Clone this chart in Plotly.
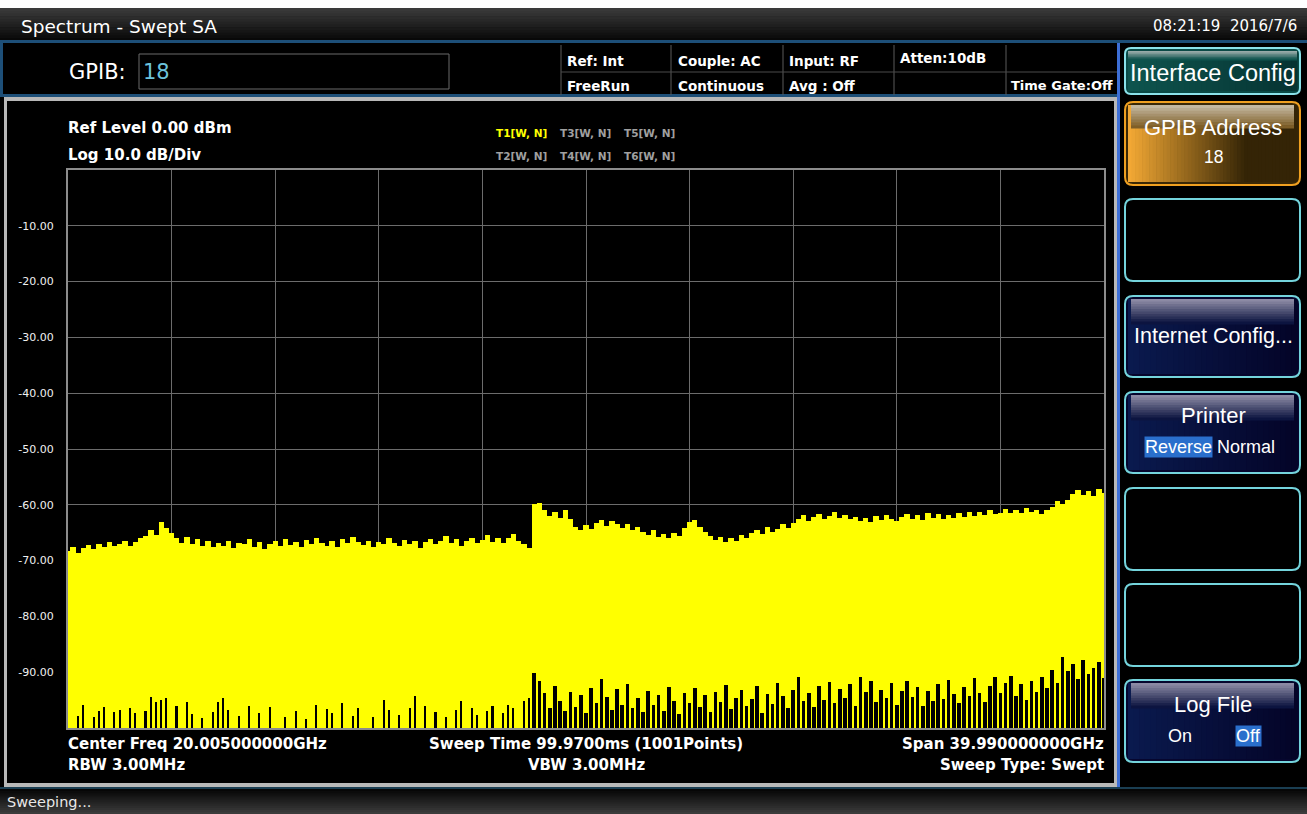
import numpy as np
import plotly.graph_objects as go

# ---------------- data ----------------
START_GHZ = 0.01
STOP_GHZ = 40.0
REF_LEVEL_DBM = 0.0
DB_PER_DIV = 10.0

# upper (peak) envelope of trace T1, dBm, evenly spaced sweep points
upper_dbm = [
    -68.3, -67.5, -68.6, -67.8, -67.2, -67.9, -67.0, -67.6, -66.6, -67.4,
    -67.0, -66.4, -67.3, -66.7, -66.0,
    -65.6, -64.6, -65.4, -63.0, -64.2, -65.0, -65.9,
    -66.8, -65.8, -67.1, -66.2, -67.4, -66.5, -67.6, -66.9,
    -67.3, -66.4, -67.8, -66.8, -67.1, -66.2, -67.5, -66.7, -67.9, -67.0,
    -66.5, -67.4, -66.1, -67.2, -66.6, -67.6, -66.3, -67.0, -65.9, -66.8,
    -67.3, -66.5, -67.6, -66.2, -66.9, -65.8, -66.7, -67.2, -66.4, -67.5,
    -66.6, -67.1, -66.0, -66.8, -67.4, -66.3, -67.0, -66.5, -67.7, -66.6,
    -66.2, -67.0, -66.4, -65.6, -66.9, -66.1, -67.3, -66.5, -66.0, -66.8,
    -66.3, -65.5, -66.6, -65.9, -66.8, -66.0, -65.3, -66.4, -67.0, -67.8,
    -59.8, -59.6,
    -61.0, -62.0, -61.2,
    -62.4, -61.0, -62.6,
    -64.0, -64.6, -63.6, -64.3,
    -63.2, -62.8, -63.8, -62.9, -63.5, -64.2, -63.4, -64.6, -64.0,
    -64.8, -65.4, -64.6, -65.8, -65.2, -66.0, -65.0, -65.6, -64.2,
    -63.0, -62.8, -63.9, -64.8,
    -65.6, -66.3, -65.8, -66.6, -66.0, -66.4, -65.5, -65.9,
    -65.0, -64.5, -65.3, -64.0, -64.8, -64.3, -63.5, -64.2, -63.2,
    -62.6, -61.8, -62.9, -62.2, -61.6, -62.5, -62.0, -61.3, -62.4, -61.9, -62.6,
    -62.1, -62.9, -62.3, -63.1, -62.0, -62.7, -61.8, -62.5, -62.9,
    -62.2, -61.6, -62.5, -61.9, -62.8, -61.4, -62.3, -61.7, -62.6, -61.8,
    -62.4, -61.5, -62.1, -61.3, -62.0,
    -61.2, -61.8, -61.0, -61.6, -61.4, -60.8, -61.5,
    -61.0, -61.4, -60.6, -61.2, -60.9, -61.6, -61.0, -60.4,
    -59.4, -59.8, -59.2,
    -58.0, -57.4, -58.2, -57.6, -58.4, -57.2, -57.9,
]

# lower (pit) envelope of trace T1, dBm (-100 = bottom of screen)
lower_dbm = [
    -100, -100, -97.8, -95.9, -100, -98.0, -97.0, -96.2, -100, -97.2,
    -96.8, -100, -96.5, -97.4, -100, -96.9, -94.4, -95.4, -95.0, -94.7,
    -100, -96.1, -100, -95.3, -97.5, -100, -98.2, -100, -97.1, -95.4,
    -94.7, -96.8, -100, -97.9, -100, -96.0, -100, -97.3, -100, -96.2,
    -100, -100, -98.1, -100, -97.0, -100, -98.3, -100, -95.8, -100,
    -96.6, -97.4, -100, -95.6, -100, -97.8, -96.4, -100, -100, -98.0,
    -100, -95.0, -96.8, -100, -97.6, -100, -96.4, -94.3, -100, -96.1,
    -100, -97.2, -100, -98.0, -100, -96.7, -95.1, -100, -96.4, -97.6,
    -100, -96.9, -96.0, -100, -97.3, -95.8, -96.5, -100, -95.2, -94.6,
    -90.2, -91.5, -93.8, -96.5, -92.4, -95.1, -97.0, -93.6, -96.2, -94.0,
    -97.4, -92.8, -95.6, -91.2, -94.4, -96.8, -93.0, -95.9, -92.1, -96.4,
    -94.6, -97.2, -93.4, -95.8, -94.0, -96.9, -92.6, -95.2, -97.5, -93.8,
    -95.6, -92.9, -96.3, -94.1, -97.1, -93.5, -95.4, -92.3, -96.6, -94.7,
    -93.1, -96.0, -94.8, -92.5, -97.3, -93.9, -95.7, -91.9, -94.3, -96.5,
    -93.2, -90.8, -95.1, -93.7, -96.2, -92.4, -94.9, -91.8, -95.5, -93.0,
    -94.6, -92.2, -96.1, -90.9, -93.6, -91.5, -95.3, -93.1, -94.7, -92.0,
    -95.8, -93.4, -91.6, -94.5, -92.7, -96.0, -93.3, -95.1, -92.2, -94.8,
    -91.4, -93.9, -95.6, -92.6, -94.2, -91.1, -93.7, -95.4, -92.5, -90.9,
    -93.8, -91.9, -90.7, -94.3, -92.1, -95.0, -91.6, -93.5, -90.9, -92.8,
    -89.6, -91.9, -87.2, -89.8, -88.6, -91.3, -87.9, -90.4, -89.2, -88.1,
    -91.0,
]

BAND_SWITCH_GHZ = 17.9

y_tick_values = [-10, -20, -30, -40, -50, -60, -70, -80, -90]
y_tick_labels = ["-10.00", "-20.00", "-30.00", "-40.00", "-50.00",
                 "-60.00", "-70.00", "-80.00", "-90.00"]

# ---------------- figure ----------------
W, H = 1307, 814
PL, PR, PT, PB = 68, 1104, 170, 728

n = len(upper_dbm)
freq = np.linspace(START_GHZ, STOP_GHZ, n)
step_ghz = (STOP_GHZ - START_GHZ) / (n - 1)
floor_dbm = REF_LEVEL_DBM - 10 * DB_PER_DIV
upper = np.array(upper_dbm)
lower = np.array(lower_dbm)


def fx(px):
    return (px - PL) / (PR - PL)


def fy(py):
    return (PB - py) / (PB - PT)


fig = go.Figure()
# yellow trace body (peak envelope down to the bottom of the screen)
fig.add_trace(go.Bar(x=freq, y=upper - floor_dbm, base=floor_dbm,
                     width=step_ghz * 1.04,
                     marker=dict(color="#ffff00", line=dict(width=0)),
                     showlegend=False))

px_ghz = (STOP_GHZ - START_GHZ) / (PR - PL)
mask_l = (lower > floor_dbm) & (freq < BAND_SWITCH_GHZ)
mask_r = (lower > floor_dbm) & (freq >= BAND_SWITCH_GHZ)
fig.add_trace(go.Bar(x=freq[mask_l], y=lower[mask_l] - floor_dbm, base=floor_dbm,
                     width=1.6 * px_ghz, marker=dict(color="#000000", line=dict(width=0)),
                     showlegend=False))
fig.add_trace(go.Bar(x=freq[mask_r], y=lower[mask_r] - floor_dbm, base=floor_dbm,
                     width=3.6 * px_ghz, marker=dict(color="#000000", line=dict(width=0)),
                     showlegend=False))

shapes = []
annotations = []


def rect(x0, y0, x1, y1, fill=None, line=None, lw=0):
    shapes.append(dict(type="rect", xref="paper", yref="paper", layer="below",
                       x0=fx(x0), x1=fx(x1), y0=fy(y1), y1=fy(y0),
                       fillcolor=fill or "rgba(0,0,0,0)",
                       line=dict(color=line or "rgba(0,0,0,0)", width=lw)))


def rround(x0, y0, x1, y1, r, fill=None, line=None, lw=0):
    p = (f"M {fx(x0 + r)},{fy(y0)} L {fx(x1 - r)},{fy(y0)} "
         f"Q {fx(x1)},{fy(y0)} {fx(x1)},{fy(y0 + r)} L {fx(x1)},{fy(y1 - r)} "
         f"Q {fx(x1)},{fy(y1)} {fx(x1 - r)},{fy(y1)} L {fx(x0 + r)},{fy(y1)} "
         f"Q {fx(x0)},{fy(y1)} {fx(x0)},{fy(y1 - r)} L {fx(x0)},{fy(y0 + r)} "
         f"Q {fx(x0)},{fy(y0)} {fx(x0 + r)},{fy(y0)} Z")
    shapes.append(dict(type="path", path=p, xref="paper", yref="paper", layer="below",
                       fillcolor=fill or "rgba(0,0,0,0)",
                       line=dict(color=line or "rgba(0,0,0,0)", width=lw)))


def mix(c0, c1, t):
    t = max(0.0, min(1.0, t))
    return "rgb(%d,%d,%d)" % tuple(round(a + (b - a) * t) for a, b in zip(c0, c1))


def vgrad(x0, y0, x1, y1, c0, c1, steps):
    h = (y1 - y0) / steps
    for k in range(steps):
        rect(x0, y0 + k * h, x1, y0 + (k + 1) * h + 0.6, fill=mix(c0, c1, k / max(1, steps - 1)))


def hgrad(x0, y0, x1, y1, c0, c1, steps, span=1.0):
    w = (x1 - x0) / steps
    for k in range(steps):
        rect(x0 + k * w, y0, x0 + (k + 1) * w + 0.6, y1,
             fill=mix(c0, c1, (k / max(1, steps - 1)) / span))


MONO = "DejaVu Sans"
ARIAL = "Liberation Sans, Arial, sans-serif"


def txt(x, y, s, size, color="#ffffff", anchor="left", family=MONO, bg=None):
    a = dict(x=fx(x), y=fy(y), xref="paper", yref="paper", text=s, showarrow=False,
             xanchor=anchor, yanchor="middle",
             font=dict(size=size, color=color, family=family), borderpad=0)
    if bg:
        a["bgcolor"] = bg
    annotations.append(a)


# white top strip and title bar
rect(0, 0, W, 8, fill="#ffffff")
vgrad(0, 8, W, 41, (58, 58, 58), (8, 8, 8), 12)
rect(0, 40, W, 43, fill="#1d4f78")
txt(20, 26, "Spectrum - Swept SA", 18.5, family=MONO)
txt(1298, 26, "08:21:19&nbsp;&nbsp;2016/7/6", 15, anchor="right", family=MONO)

# info bar
rect(0, 43, 1117, 95, fill="#000000")
rect(0, 94, 1117, 97, fill="#1d4f78")
rect(0, 43, 3, 97, fill="#1d4f78")
txt(68, 72, "GPIB:", 21, family=MONO)
rect(139, 54, 449, 89, line="#6a6a6a", lw=1)
txt(142, 72, "18", 21, color="#6cc3dc", family=MONO)
for xv in [561, 671, 783, 894, 1006]:
    rect(xv - 0.5, 45, xv + 0.5, 95, fill="#5a5a5a")
rect(561, 71.5, 1117, 72.5, fill="#4a4a4a")
status_top = [(566, "Ref: Int"), (677, "Couple: AC"), (788, "Input: RF")]
status_bot = [(566, "FreeRun"), (677, "Continuous"), (788, "Avg : Off")]
for xv, s in status_top:
    txt(xv, 61, "<b>%s</b>" % s, 13.5)
for xv, s in status_bot:
    txt(xv, 86, "<b>%s</b>" % s, 13.5)
txt(899, 58, "<b>Atten:10dB</b>", 13.5)
txt(1010, 86, "<b>Time Gate:Off</b>", 13)

# main panel
rect(4, 97, 1117, 101, fill="#b8b8b8")
rect(4, 97, 7, 787, fill="#b8b8b8")
rect(1114, 97, 1117, 787, fill="#b8b8b8")
rect(4, 783, 1117, 787, fill="#b8b8b8")

txt(67, 128, "<b>Ref Level 0.00 dBm</b>", 15)
txt(67, 155, "<b>Log 10.0 dB/Div</b>", 15)
txt(495, 133, "<b>T1[W, N]</b>", 10.5, color="#ffff00")
txt(559, 133, "<b>T3[W, N]</b>", 10.5, color="#a0a0a0")
txt(623, 133, "<b>T5[W, N]</b>", 10.5, color="#a0a0a0")
txt(495, 156, "<b>T2[W, N]</b>", 10.5, color="#a0a0a0")
txt(559, 156, "<b>T4[W, N]</b>", 10.5, color="#a0a0a0")
txt(623, 156, "<b>T6[W, N]</b>", 10.5, color="#a0a0a0")

txt(67, 744, "<b>Center Freq 20.005000000GHz</b>", 15)
txt(67, 765, "<b>RBW 3.00MHz</b>", 15)
txt(586, 744, "<b>Sweep Time 99.9700ms (1001Points)</b>", 15, anchor="center")
txt(586, 765, "<b>VBW 3.00MHz</b>", 15, anchor="center")
txt(1105, 744, "<b>Span 39.990000000GHz</b>", 15, anchor="right")
txt(1105, 765, "<b>Sweep Type: Swept</b>", 15, anchor="right")

# status bar
rect(0, 787, W, 789, fill="#1a3e52")
vgrad(0, 789, W, 814, (6, 6, 6), (60, 60, 60), 12)
txt(6, 802, "Sweeping...", 14.5, color="#e8e8e8")

# softkey panel
rect(1117, 43, 1120, 787, fill="#3d6fd6")
CYAN = "#74d4dc"
KX = 1213

# Interface Config (teal)
rround(1125, 48, 1300, 94, 6, fill="#0a4a46")
hgrad(1128, 52, 1297, 91, (14, 84, 78), (6, 52, 50), 30)
vgrad(1128, 51, 1297, 60, (150, 170, 168), (14, 84, 78), 6)
rround(1125, 48, 1300, 94, 6, line="#8ae2ea", lw=2)
txt(KX, 73, "Interface Config", 23.5, family=ARIAL, anchor="center")

# GPIB Address (orange)
rround(1125, 102, 1300, 185, 8, fill="#3a2806")
hgrad(1128, 105, 1297, 182, (242, 168, 52), (52, 36, 6), 48, span=0.7)
vgrad(1131, 105, 1294, 128, (196, 184, 160), (126, 94, 40), 8)
rround(1125, 102, 1300, 185, 8, line="#f0a020", lw=2)
txt(KX, 127, "GPIB Address", 22, family=ARIAL, anchor="center")
txt(KX, 157, "18", 17.5, family=ARIAL, anchor="center")

# empty keys
for y0, y1 in [(199, 281), (488, 570), (584, 666)]:
    rround(1125, y0, 1300, y1, 8, fill="#000000", line=CYAN, lw=2)


def navy_key(y0, y1):
    rround(1125, y0, 1300, y1, 8, fill="#06062e")
    hgrad(1128, y0 + 3, 1297, y1 - 3, (10, 26, 78), (4, 4, 40), 30)
    vgrad(1131, y0 + 3, 1294, y0 + 28, (140, 138, 164), (12, 20, 64), 10)
    rround(1125, y0, 1300, y1, 8, line=CYAN, lw=2)


navy_key(296, 377)
txt(KX, 336, "Internet Config...", 21.5, family=ARIAL, anchor="center")
navy_key(392, 473)
txt(KX, 415, "Printer", 22, family=ARIAL, anchor="center")
txt(1144, 447, "Reverse", 18, family=ARIAL, bg="#2a6fcc")
txt(1216, 447, "Normal", 18, family=ARIAL)
navy_key(680, 762)
txt(KX, 704, "Log File", 22, family=ARIAL, anchor="center")
txt(1167, 736, "On", 18, family=ARIAL)
txt(1235, 736, "Off", 18, family=ARIAL, bg="#2a6fcc")

grid_color = "#6c6c6c"
fig.update_layout(
    width=W, height=H, autosize=False,
    margin=dict(l=PL, r=W - PR, t=PT, b=H - PB, pad=0, autoexpand=False),
    paper_bgcolor="#000000", plot_bgcolor="rgba(0,0,0,0)",
    barmode="overlay", bargap=0, showlegend=False,
    shapes=shapes, annotations=annotations,
    xaxis=dict(range=[START_GHZ, STOP_GHZ],
               tickvals=list(np.linspace(START_GHZ, STOP_GHZ, 11)),
               showticklabels=False, ticks="", showgrid=True, gridcolor=grid_color,
               gridwidth=1, zeroline=False, showline=True, linecolor="#8c8c8c",
               linewidth=2, mirror=True, fixedrange=True),
    yaxis=dict(range=[floor_dbm, REF_LEVEL_DBM], tickvals=y_tick_values,
               ticktext=y_tick_labels, ticks="", ticklabelstandoff=10,
               tickfont=dict(size=11, color="#f0f0f0", family=MONO),
               showgrid=True, gridcolor=grid_color, gridwidth=1, zeroline=False,
               showline=True, linecolor="#8c8c8c", linewidth=2, mirror=True,
               fixedrange=True),
)

fig.write_html("out.html", config={"displayModeBar": False},
               post_script="document.body.style.margin='0';document.body.style.overflow='hidden';")
